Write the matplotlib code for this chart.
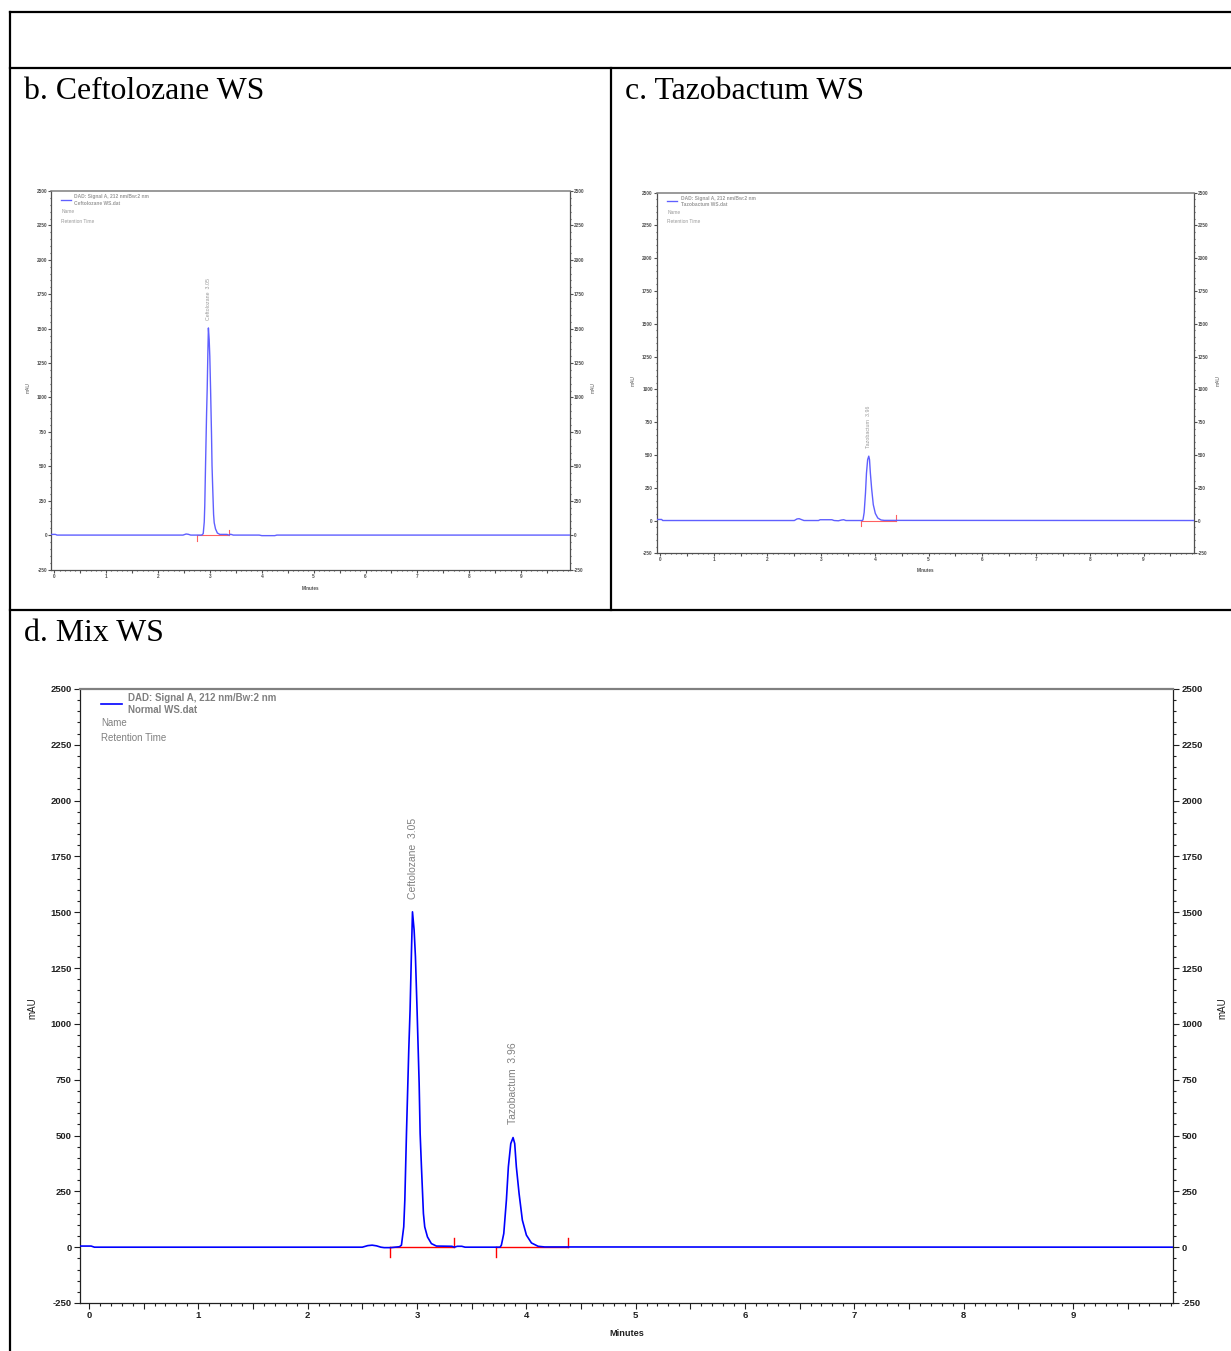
import matplotlib.pyplot as plt
from matplotlib.lines import Line2D
from matplotlib.ticker import MultipleLocator, FuncFormatter

plt.rcParams['font.family'] = ['Liberation Sans', 'DejaVu Sans']
plt.rcParams['axes.unicode_minus'] = False

W, H = 1231, 1351

# ---- values: time (min) / signal (mAU) ----
ceft_time = [-0.06, 0.02, 0.05, 2.48, 2.54, 2.58, 2.63, 2.84, 2.87, 2.89, 2.90, 2.915,
             2.935, 2.947, 2.96, 2.97, 2.985, 2.997, 3.012, 3.03, 3.04, 3.052, 3.07,
             3.082, 3.107, 3.143, 3.19, 3.33, 3.36, 3.40, 3.45, 3.95, 4.0, 4.25, 4.29, 9.94]
ceft_mau = [5, 5, 0, 0, 8, 6, 0, 0, 10, 95, 215, 510,
            885, 1065, 1330, 1505, 1420, 1300, 1060, 730, 505, 355, 150,
            90, 45, 15, 5, 5, 0, 6, 0, 0, -4, -4, 0, 0]
ceft_starts = [2.75]
ceft_ends = [3.36]
ceft_peaks = [('Ceftolozane  3.05', 2.97, 1560)]

tazo_time = [-0.06, 0.03, 0.05, 2.50, 2.55, 2.59, 2.64, 2.68, 2.95, 2.98, 3.20, 3.24,
             3.32, 3.38, 3.42, 3.46, 3.77, 3.78, 3.80, 3.825, 3.843, 3.865, 3.886,
             3.90, 3.916, 3.94, 3.97, 4.008, 4.054, 4.115, 4.175, 9.94]
tazo_mau = [8, 8, 0, 0, 12, 14, 6, 0, 0, 6, 6, 0,
            -2, 4, 6, 0, 0, 9, 61, 211, 360, 464, 491,
            464, 360, 240, 121, 54, 19, 4, 1, 0]
tazo_starts = [3.745]
tazo_ends = [4.40]
tazo_peaks = [('Tazobactum  3.96', 3.885, 550)]

mix_time = [-0.08, 0.02, 0.05, 2.50, 2.55, 2.59, 2.63, 2.67, 2.70, 2.76, 2.80, 2.84,
            2.858, 2.879, 2.889, 2.904, 2.925, 2.937, 2.950, 2.959, 2.974, 2.986,
            3.001, 3.020, 3.029, 3.041, 3.059, 3.071, 3.096, 3.132, 3.178, 3.32,
            3.34, 3.37, 3.41, 3.44, 3.76, 3.772, 3.794, 3.818, 3.836, 3.858, 3.879,
            3.894, 3.909, 3.934, 3.964, 4.001, 4.047, 4.108, 4.168, 9.92]
mix_mau = [5, 5, 0, 0, 7, 9, 6, 0, -2, -2, 0, 2,
           9, 91, 211, 509, 883, 1062, 1331, 1502, 1420, 1301,
           1062, 733, 509, 360, 151, 91, 46, 16, 5, 4,
           0, 4, 4, 0, 0, 9, 61, 211, 360, 464, 491,
           464, 360, 240, 121, 54, 19, 4, 1, 0]
mix_starts = [2.751, 3.726]
mix_ends = [3.337, 4.382]
mix_peaks = [('Ceftolozane  3.05', 2.961, 1560), ('Tazobactum  3.96', 3.878, 550)]


def px_axes(fig, left, top, right, bottom):
    return fig.add_axes([left / W, 1 - bottom / H, (right - left) / W, (bottom - top) / H])


def draw_panel(ax, time, mau, starts, ends, peaks, file_name, xlim, s, faded):
    trace_c = '#5f5fff' if faded else '#0000ff'
    red_c = '#ff6060' if faded else '#ff0000'
    txt_c = '#9a9a9a' if faded else '#808080'
    tick_c = '#505050' if faded else '#202020'

    # integration baselines + start/end marks
    for a, b in zip(starts, ends):
        ax.plot([a, b], [0, 0], color=red_c, lw=1.0 * max(s, 0.8), zorder=2)
        ax.plot([a, a], [0, -45], color=red_c, lw=1.0 * max(s, 0.8), zorder=2)
        ax.plot([b, b], [0, 40], color=red_c, lw=1.0 * max(s, 0.8), zorder=2)
    ax.plot(time, mau, color=trace_c, lw=1.2 if not faded else 1.0, zorder=3)

    for label, x, y in peaks:
        ax.text(x, y, label, rotation=90, ha='center', va='bottom',
                color=txt_c, fontsize=7.5 * s)

    ax.set_xlim(*xlim)
    ax.set_ylim(-250, 2500)

    ax.xaxis.set_major_locator(MultipleLocator(0.5))
    ax.xaxis.set_minor_locator(MultipleLocator(0.1))
    ax.xaxis.set_major_formatter(FuncFormatter(
        lambda v, p: f'{int(round(v))}' if abs(v - round(v)) < 1e-6 else ''))
    ax.yaxis.set_major_locator(MultipleLocator(250))
    ax.yaxis.set_minor_locator(MultipleLocator(50))

    ax.tick_params(axis='both', which='both', direction='out', colors=tick_c,
                   width=0.8, labelsize=6.8 * s, pad=2 * s)
    ax.tick_params(axis='both', which='major', length=4 * s)
    ax.tick_params(axis='both', which='minor', length=2 * s)
    ax.tick_params(axis='y', which='both', left=True, right=True,
                   labelleft=True, labelright=True)
    for lab in ax.get_xticklabels() + ax.get_yticklabels():
        lab.set_fontweight('bold')

    ax.spines['top'].set_color('#808080')
    ax.spines['top'].set_linewidth(1.6 * max(s, 0.7))
    for side in ['left', 'right', 'bottom']:
        ax.spines[side].set_color(tick_c)
        ax.spines[side].set_linewidth(0.9)

    # legend block of the instrument software
    ax.plot([0.019, 0.038], [0.976, 0.976], transform=ax.transAxes,
            color=trace_c, lw=1.2 * max(s, 0.8))
    ax.text(0.044, 0.985, 'DAD: Signal A, 212 nm/Bw:2 nm', transform=ax.transAxes,
            color=txt_c, fontsize=7 * s, fontweight='bold', va='center')
    ax.text(0.044, 0.966, file_name, transform=ax.transAxes,
            color=txt_c, fontsize=7 * s, fontweight='bold', va='center')
    ax.text(0.019, 0.945, 'Name', transform=ax.transAxes,
            color=txt_c, fontsize=7 * s, va='center')
    ax.text(0.019, 0.920, 'Retention Time', transform=ax.transAxes,
            color=txt_c, fontsize=7 * s, va='center')

    ax.text(-0.044, 0.48, 'mAU', transform=ax.transAxes, rotation=90,
            ha='center', va='center', fontsize=7 * s, color=tick_c)
    ax.text(1.045, 0.48, 'mAU', transform=ax.transAxes, rotation=90,
            ha='center', va='center', fontsize=7 * s, color=tick_c)
    ax.text(0.5, -0.049, 'Minutes', transform=ax.transAxes, ha='center',
            va='center', fontsize=6.6 * s, fontweight='bold', color=tick_c)


fig = plt.figure(figsize=(W / 100, H / 100), dpi=100)

# table grid of the document
grid = [((10, 12), (1231, 12)), ((10, 68), (1231, 68)), ((10, 610), (1231, 610)),
        ((10, 12), (10, 1351)), ((611, 68), (611, 610))]
for (x1, y1), (x2, y2) in grid:
    fig.add_artist(Line2D([x1 / W, x2 / W], [1 - y1 / H, 1 - y2 / H],
                          transform=fig.transFigure, color='black', lw=1.6))

title_kw = dict(family=['Liberation Serif', 'DejaVu Serif'], fontsize=22.9, va='baseline')
fig.text(24 / W, 1 - 99 / H, 'b. Ceftolozane WS', **title_kw)
fig.text(625 / W, 1 - 99 / H, 'c. Tazobactum WS', **title_kw)
fig.text(24 / W, 1 - 641 / H, 'd. Mix WS', **title_kw)

ax_b = px_axes(fig, 51.4, 191, 570, 569.5)
draw_panel(ax_b, ceft_time, ceft_mau, ceft_starts, ceft_ends, ceft_peaks,
           'Ceftolozane WS.dat', (-0.058, 9.944), 0.5, True)

ax_c = px_axes(fig, 657, 192.7, 1194, 553.3)
draw_panel(ax_c, tazo_time, tazo_mau, tazo_starts, tazo_ends, tazo_peaks,
           'Tazobactum WS.dat', (-0.056, 9.94), 0.5, True)

ax_d = px_axes(fig, 80, 689, 1173, 1303)
draw_panel(ax_d, mix_time, mix_mau, mix_starts, mix_ends, mix_peaks,
           'Normal WS.dat', (-0.082, 9.915), 1.0, False)

fig.savefig('out.png', dpi=100)
